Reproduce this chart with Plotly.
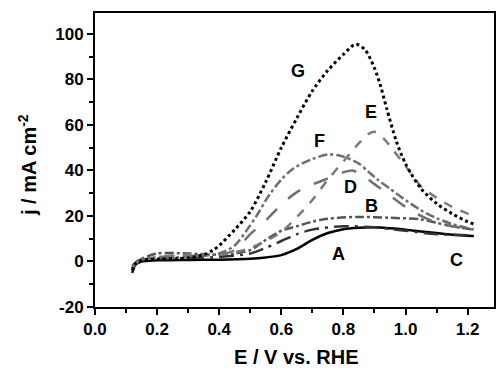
import plotly.graph_objects as go

# Potential (V vs. RHE) grids and current densities (mA cm^-2)
x_A = [0.12, 0.13, 0.15, 0.2, 0.3, 0.4, 0.5, 0.55, 0.6, 0.65, 0.7, 0.75, 0.8, 0.85, 0.9, 0.95, 1.0, 1.05, 1.1, 1.15, 1.22]
y_A = [-5, -1.5, 0, 0.5, 0.7, 0.8, 1.2, 1.8, 2.8, 5.5, 9.5, 12.5, 14.2, 14.8, 15, 14.6, 14, 13.2, 12.5, 11.8, 11.2]

x_B = [0.12, 0.14, 0.2, 0.3, 0.4, 0.45, 0.5, 0.55, 0.6, 0.65, 0.7, 0.75, 0.85, 0.95, 1.05, 1.1, 1.15, 1.22]
y_B = [-2, 0.5, 3.5, 3.5, 3, 3.5, 5, 9.5, 13.5, 15.5, 17.5, 18.8, 19.6, 19.2, 18.5, 17, 15.5, 14]

x_C = [0.12, 0.14, 0.2, 0.3, 0.4, 0.5, 0.55, 0.6, 0.65, 0.7, 0.8, 0.9, 1.0, 1.1, 1.22]
y_C = [-3, 0, 1, 1.5, 2, 3.5, 6, 9, 12, 14, 15.5, 15, 13.5, 12, 11.5]

x_D = [0.12, 0.14, 0.2, 0.3, 0.4, 0.45, 0.5, 0.55, 0.6, 0.65, 0.7, 0.75, 0.8, 0.83, 0.87, 0.9, 0.95, 1.0, 1.05, 1.1, 1.15, 1.22]
y_D = [-2, 0.5, 2, 2.5, 3, 5, 12, 18, 25, 30.5, 33.8, 36.5, 39.2, 40, 37, 34, 29, 24, 20, 17, 15.5, 14]

x_E = [0.12, 0.14, 0.2, 0.3, 0.4, 0.45, 0.5, 0.55, 0.6, 0.65, 0.7, 0.75, 0.8, 0.85, 0.88, 0.9, 0.93, 0.96, 1.0, 1.05, 1.1, 1.15, 1.2, 1.22]
y_E = [-3, 0, 2, 3, 3, 4, 6, 9, 13, 19.5, 27, 36, 44, 52, 56, 57, 54, 49, 42, 33, 28, 24, 21, 20]

x_F = [0.12, 0.14, 0.2, 0.3, 0.4, 0.45, 0.49, 0.52, 0.56, 0.6, 0.64, 0.7, 0.75, 0.79, 0.85, 0.88, 0.91, 0.95, 1.0, 1.05, 1.1, 1.15, 1.22]
y_F = [-3, 0.5, 1.5, 2, 3.5, 7, 14, 20, 29, 36, 41, 45, 47, 46.5, 43, 39.5, 36, 32, 27, 22.5, 19, 16.5, 14]

x_G = [0.12, 0.13, 0.15, 0.2, 0.25, 0.3, 0.35, 0.38, 0.4, 0.45, 0.5, 0.55, 0.6, 0.65, 0.7, 0.75, 0.8, 0.84, 0.87, 0.9, 0.92, 0.94, 0.97, 1.0, 1.05, 1.1, 1.15, 1.2, 1.22]
y_G = [-4, -1, 0.5, 1, 1.2, 1.5, 3, 5, 7, 14, 22, 35, 50, 63, 75, 84, 91, 95.5, 93, 85, 77, 67, 53, 43, 32, 25.5, 21, 17.5, 16.5]

# Curve labels and their positions
label_text = ["G", "E", "F", "D", "B", "A", "C"]
label_x = [0.653, 0.889, 0.722, 0.824, 0.891, 0.783, 1.163]
label_y = [83.5, 65.9, 52.9, 32.8, 24.6, 3.1, 0.6]

x_ticks = [0.0, 0.2, 0.4, 0.6, 0.8, 1.0, 1.2]
y_ticks = [-20, 0, 20, 40, 60, 80, 100]

x_title = "E / V vs. RHE"
y_title = "j / mA cm<sup>-2</sup>"

FONT = "Liberation Sans, Arial, sans-serif"

series = [
    ("A", x_A, y_A, "#000000", "solid", 2.5),
    ("B", x_B, y_B, "#555555", "dashdot", 2.5),
    ("C", x_C, y_C, "#333333", "longdashdot", 2.5),
    ("D", x_D, y_D, "#707070", "longdash", 2.5),
    ("E", x_E, y_E, "#7a7a7a", "dash", 2.5),
    ("F", x_F, y_F, "#6e6e6e", "dashdot", 2.5),
    ("G", x_G, y_G, "#000000", "dot", 3),
]

fig = go.Figure()
for name, xs, ys, col, dash, w in series:
    fig.add_trace(go.Scatter(
        x=xs, y=ys, mode="lines", name=name,
        line=dict(color=col, dash=dash, width=w, shape="spline", smoothing=0.8),
        showlegend=False,
    ))

for t, lx, ly in zip(label_text, label_x, label_y):
    fig.add_annotation(x=lx, y=ly, text=t, showarrow=False,
                       font=dict(family=FONT, size=18, color="#000000", weight="bold"),
                       xanchor="center", yanchor="middle")

# Axis titles as paper-anchored annotations for precise placement
fig.add_annotation(xref="paper", yref="paper", x=0.505, y=0, yshift=-50,
                   text=x_title, showarrow=False, xanchor="center", yanchor="middle",
                   font=dict(family=FONT, size=20, color="#000000", weight="bold"))
fig.add_annotation(xref="paper", yref="paper", x=0, y=0.5, xshift=-68, yshift=-5,
                   text=y_title, showarrow=False, textangle=-90,
                   xanchor="center", yanchor="middle",
                   font=dict(family=FONT, size=20, color="#000000", weight="bold"))

fig.update_layout(
    width=496, height=368,
    margin=dict(l=95, r=2, t=13, b=61),
    paper_bgcolor="white", plot_bgcolor="white",
    font=dict(family=FONT, color="#000000"),
)
fig.update_xaxes(
    range=[0, 1.285], tickvals=x_ticks, ticktext=[f"{v:.1f}" for v in x_ticks],
    automargin=False,
    showgrid=False, zeroline=False,
    showline=True, linecolor="black", linewidth=2, mirror=True,
    ticks="outside", ticklen=6, tickwidth=2, tickcolor="black",
    minor=dict(dtick=0.1, ticks="outside", ticklen=4, tickwidth=2, tickcolor="black", showgrid=False),
    tickfont=dict(family=FONT, size=17, weight="bold"),
)
fig.update_yaxes(
    range=[-20, 109.2], tickvals=y_ticks, ticktext=[str(v) for v in y_ticks],
    automargin=False,
    showgrid=False, zeroline=False,
    showline=True, linecolor="black", linewidth=2, mirror=True,
    ticks="outside", ticklen=6, tickwidth=2, tickcolor="black",
    minor=dict(dtick=10, ticks="outside", ticklen=4, tickwidth=2, tickcolor="black", showgrid=False),
    tickfont=dict(family=FONT, size=17, weight="bold"),
)

fig.write_html("out.html", config={"displayModeBar": False},
               post_script="document.body.style.margin='0';document.body.style.overflow='hidden';")
